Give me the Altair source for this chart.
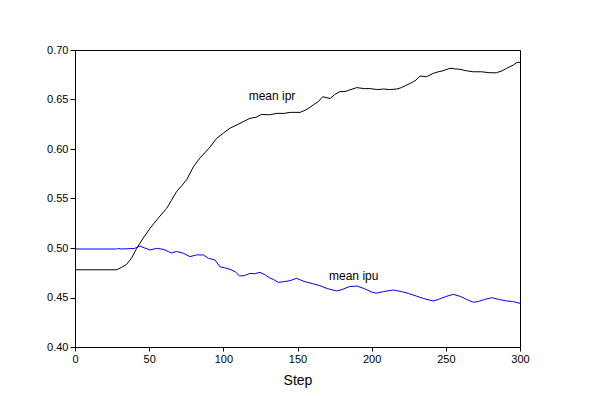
import altair as alt
import pandas as pd

ipr_steps = [0, 28, 31.5, 34.8, 38.2, 41.6, 46, 50.6, 56, 61.8, 65, 68.5, 72, 75.3, 79.8, 84.3, 88, 91,
             95.5, 100, 104.5, 110, 114, 118, 122, 125.8, 131, 136, 141, 145, 151.7, 155, 158.4, 161,
             164, 167, 172, 175, 178.6, 182, 185, 190, 195, 199, 204, 208, 212, 217, 220, 223.6, 227,
             230, 232.6, 237, 241.5, 245, 248, 252.8, 256, 259.5, 264, 268.5, 274, 279.8, 284, 288,
             291, 295.5, 298, 300]
ipr_vals = [0.478, 0.478, 0.4805, 0.4835, 0.490, 0.4997, 0.510, 0.520, 0.530, 0.540, 0.548, 0.557,
            0.563, 0.569, 0.582, 0.591, 0.597, 0.602, 0.6108, 0.616, 0.621, 0.625, 0.628, 0.631,
            0.632, 0.635, 0.6345, 0.636, 0.636, 0.637, 0.637, 0.639, 0.642, 0.645, 0.6478, 0.6528,
            0.651, 0.655, 0.658, 0.658, 0.6596, 0.662, 0.661, 0.661, 0.660, 0.6606, 0.660, 0.6606,
            0.662, 0.6646, 0.667, 0.6697, 0.6737, 0.673, 0.6764, 0.678, 0.679, 0.6815, 0.681,
            0.6805, 0.679, 0.678, 0.678, 0.677, 0.677, 0.679, 0.6815, 0.6848, 0.6875, 0.6875]

ipu_steps = [0, 28, 29.5, 31, 40, 43.8, 47, 50.6, 55, 60, 62.9, 65, 68.5, 73, 77.5, 82, 86.5, 89.9,
             94.4, 97.7, 101, 104.5, 108, 111, 114, 118, 121, 124.7, 128, 131, 134, 137, 141, 145,
             149.4, 152, 155, 160, 165, 170, 176.4, 180, 185, 190, 195, 200, 203, 208, 214.6, 220,
             225, 230, 235, 241.5, 245, 250, 255, 260, 264, 268.5, 272, 276, 281, 286, 291, 295, 300]
ipu_vals = [0.499, 0.499, 0.4995, 0.499, 0.4995, 0.502, 0.500, 0.498, 0.4997, 0.4985, 0.4964,
            0.495, 0.4965, 0.4947, 0.4913, 0.493, 0.493, 0.4896, 0.4879, 0.481, 0.480, 0.4785,
            0.476, 0.4717, 0.472, 0.4744, 0.474, 0.4754, 0.473, 0.470, 0.468, 0.4653, 0.466,
            0.467, 0.4694, 0.4677, 0.466, 0.464, 0.462, 0.459, 0.4566, 0.458, 0.461, 0.4616,
            0.459, 0.4555, 0.4543, 0.456, 0.4576, 0.456, 0.454, 0.4515, 0.449, 0.4465, 0.448,
            0.451, 0.4532, 0.451, 0.448, 0.4452, 0.446, 0.448, 0.4498, 0.448, 0.4465, 0.446, 0.4441]

label_text = ["mean ipr", "mean ipu"]
label_x = [132.8, 187.9]
label_y = [0.6535, 0.4717]

x_ticks = [i * 12.5 for i in range(25)]
y_ticks = [round(0.4 + i * 0.025, 3) for i in range(13)]

df = pd.concat([
    pd.DataFrame({"step": ipr_steps, "value": ipr_vals, "series": "ipr"}),
    pd.DataFrame({"step": ipu_steps, "value": ipu_vals, "series": "ipu"}),
])
labels = pd.DataFrame({"text": label_text, "step": label_x, "value": label_y})

FONT = "Liberation Sans"

xscale = alt.Scale(domain=[0, 300], nice=False, zero=False)
yscale = alt.Scale(domain=[0.4, 0.7], nice=False, zero=False)

lines = alt.Chart(df).mark_line(strokeWidth=1, interpolate="linear").encode(
    x=alt.X("step:Q", scale=xscale,
            axis=alt.Axis(values=x_ticks, title="Step", format="d",
                          labelExpr="datum.value % 50 == 0 ? datum.label : ''",
                          tickSize={"condition": {"test": "datum.value % 50 == 0", "value": 4}, "value": 3},
                          labelPadding=2, labelFlush=False, labelOverlap=False,
                          titleY=37, titleBaseline="alphabetic",
                          titleFontSize=14, titleFontWeight="normal")),
    y=alt.Y("value:Q", scale=yscale,
            axis=alt.Axis(values=y_ticks, title=None, format=".2f",
                          labelExpr="round(datum.value * 1000) % 50 == 0 ? datum.label : ''",
                          tickSize={"condition": {"test": "round(datum.value * 1000) % 50 == 0", "value": 5}, "value": 4},
                          labelPadding=2, labelFlush=False, labelOverlap=False)),
    color=alt.Color("series:N", scale=alt.Scale(domain=["ipr", "ipu"], range=["#000000", "#0000ff"]),
                    legend=None),
)

text = alt.Chart(labels).mark_text(fontSize=12, font=FONT, color="black", baseline="middle",
                                   align="center").encode(
    x=alt.X("step:Q", scale=xscale),
    y=alt.Y("value:Q", scale=yscale),
    text="text:N",
)

chart = (lines + text).properties(
    width=445, height=297,
    padding={"left": 67, "top": 42, "right": 68, "bottom": 41},
    autosize=alt.AutoSizeParams(type="none"),
    background="white",
).configure_view(stroke="black", strokeWidth=1).configure_axis(
    grid=False, domainColor="black", tickColor="black", labelColor="black", titleColor="black",
    labelFont=FONT, titleFont=FONT, labelFontSize=11,
)

chart.save("out.html", embed_options={"renderer": "svg", "actions": False})
